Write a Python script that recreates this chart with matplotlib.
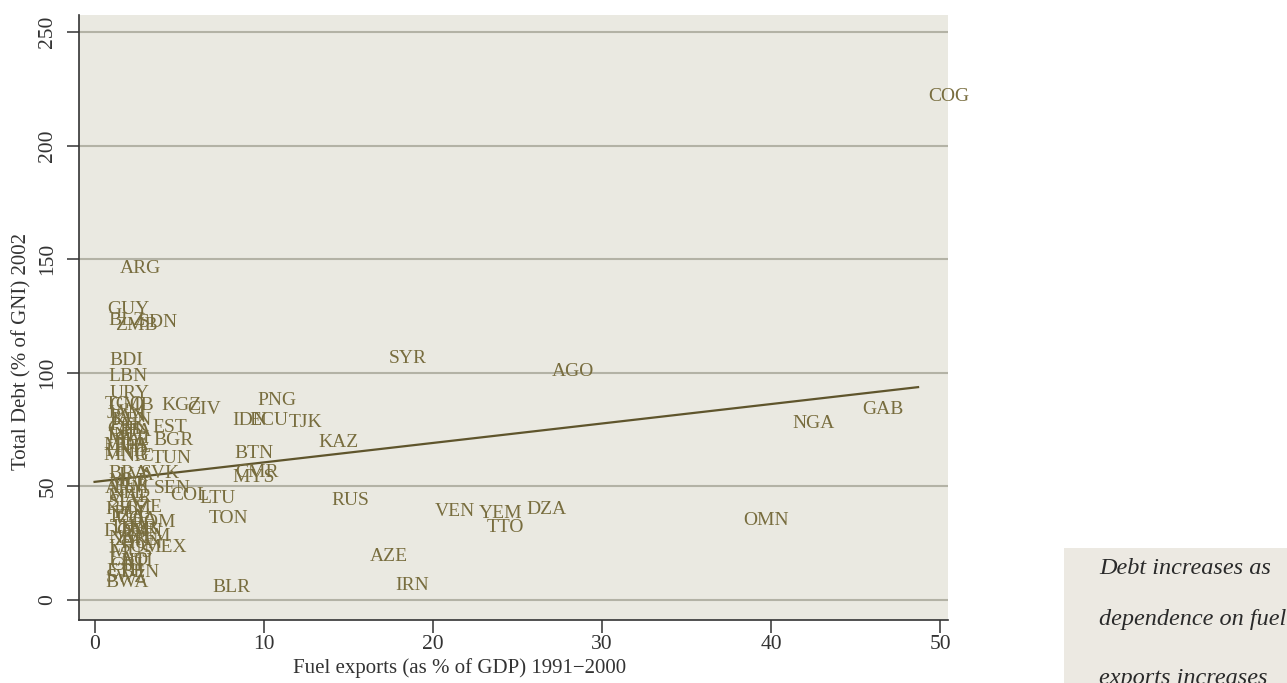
import matplotlib.pyplot as plt
from matplotlib.patches import Rectangle

# country codes, fuel exports (% GDP) 1991-2000, total debt (% GNI) 2002
countries = [
    "COG", "ARG", "GUY", "BLZ", "ZMB", "SDN", "BDI", "LBN", "URY", "TGO",
    "GMB", "KGZ", "CIV", "PNG", "IDN", "ECU", "TJK", "KAZ", "SYR", "AGO",
    "GAB", "NGA", "JAM", "PAN", "KEN", "PAK", "CHL", "GHA", "EST", "IND",
    "MWI", "BGR", "SLE", "MDA", "PHL", "HND", "TUN", "MNG", "NIC", "BTN",
    "CMR", "MYS", "BRA", "LVA", "SVK", "MLI", "PER", "ARM", "SEN", "NPL",
    "COL", "MAR", "LTU", "SLV", "RUS", "CZE", "KHM", "VEN", "DZA", "YEM",
    "POL", "TZA", "UGA", "ROM", "TON", "TTO", "THA", "TUR", "OMN", "DOM",
    "SVN", "GTM", "NER", "ZWE", "HUN", "MEX", "LSO", "MUS", "AZE", "LAO",
    "HTI", "CRI", "BEN", "ETH", "SWZ", "BWA", "BLR", "IRN",
]
fuel_exports = [
    50.5, 2.7, 2.0, 1.9, 2.5, 3.75, 1.85, 1.95, 2.1, 1.8,
    2.2, 5.15, 6.5, 10.8, 9.2, 10.3, 12.5, 14.4, 18.5, 28.3,
    46.6, 42.5, 1.9, 2.0, 2.2, 2.0, 1.9, 2.1, 4.46, 1.8,
    2.0, 4.64, 2.2, 1.9, 2.3, 1.9, 4.58, 1.9, 2.5, 9.4,
    9.6, 9.4, 2.0, 2.5, 3.9, 1.9, 2.2, 1.9, 4.6, 2.0,
    5.6, 2.1, 7.25, 1.9, 15.1, 2.9, 2.0, 21.3, 26.7, 24.0,
    2.2, 1.9, 2.5, 3.5, 7.9, 24.3, 2.1, 2.6, 39.7, 1.9,
    2.9, 3.2, 2.0, 2.4, 2.8, 4.2, 1.9, 2.2, 17.4, 2.0,
    2.5, 1.9, 2.7, 1.8, 1.9, 1.9, 8.1, 18.8,
]
total_debt = [
    221.8, 146.1, 128.0, 123.0, 121.0, 122.0, 105.6, 98.6, 91.0, 86.0,
    85.5, 85.4, 84.0, 88.0, 78.8, 79.0, 78.0, 69.5, 106.5, 100.4,
    84.0, 77.5, 82.0, 80.5, 79.0, 77.0, 75.0, 74.0, 76.1, 72.5,
    71.0, 70.0, 70.0, 68.0, 67.0, 65.5, 62.5, 63.4, 63.0, 64.7,
    56.0, 54.0, 55.5, 55.0, 55.5, 52.0, 50.5, 49.0, 49.0, 47.0,
    46.0, 45.0, 44.5, 43.0, 43.6, 40.5, 40.0, 39.0, 40.0, 37.9,
    38.0, 36.5, 35.5, 34.0, 36.0, 32.0, 32.0, 31.0, 34.8, 30.0,
    30.0, 28.0, 27.0, 26.0, 25.0, 23.3, 23.0, 21.0, 19.0, 17.5,
    17.0, 15.0, 12.3, 12.5, 10.0, 7.5, 5.7, 6.6,
]

# fitted line end points
fit_x = [0, 48.7]
fit_y = [52.0, 93.7]

y_ticks = [0, 50, 100, 150, 200, 250]
x_ticks = [0, 10, 20, 30, 40, 50]

note_lines = ["Debt increases as", "dependence on fuel", "exports increases"]

W, H = 1287, 683
serif = ["Liberation Serif", "DejaVu Serif"]
label_color = "#786D3E"
axis_color = "#333333"

fig = plt.figure(figsize=(W / 100, H / 100), dpi=100)
ax = fig.add_axes([79 / W, (H - 620) / H, (948 - 79) / W, (620 - 15) / H])
ax.set_facecolor("#EAE9E1")

ax.set_xlim(-0.92, 50.47)
ax.set_ylim(-8.8, 257.5)

for yv in y_ticks:
    ax.axhline(yv, color="#B3B2A5", lw=1.5, zorder=1)

ax.plot(fit_x, fit_y, color="#5F552C", lw=1.6, zorder=2)

for lab, xv, yv in zip(countries, fuel_exports, total_debt):
    ax.text(xv, yv, lab, ha="center", va="center", fontsize=14,
            color=label_color, family=serif, zorder=3)

for side in ("top", "right"):
    ax.spines[side].set_visible(False)
for side in ("left", "bottom"):
    ax.spines[side].set_color(axis_color)
    ax.spines[side].set_linewidth(1.2)

ax.set_xticks(x_ticks)
ax.set_yticks(y_ticks)
ax.tick_params(axis="both", direction="out", length=9, width=1.1,
               color=axis_color, labelsize=15.5, labelcolor=axis_color)
ax.tick_params(axis="x", pad=1.5)
ax.tick_params(axis="y", pad=6.5)
for t in ax.get_xticklabels():
    t.set_family(serif)
for t in ax.get_yticklabels():
    t.set_family(serif)
    t.set_rotation(90)
    t.set_va("center")

# axis titles, placed where the reference has them
fig.text(460 / W, (H - 668) / H, "Fuel exports (as % of GDP) 1991\u22122000",
         ha="center", va="center", family=serif, fontsize=15, color=axis_color)
fig.text(22 / W, (H - 351) / H, "Total Debt (% of GNI) 2002", rotation=90,
         ha="center", va="center", family=serif, fontsize=15, color=axis_color)

# side note box, cut by the figure edge
fig.patches.append(Rectangle((1064 / W, 0), (W - 1064) / W, (H - 548) / H,
                             transform=fig.transFigure, facecolor="#ECE9E2",
                             edgecolor="none", zorder=0))
for line, base in zip(note_lines, [574, 625, 684]):
    fig.text(1099 / W, (H - base) / H, line, ha="left", va="baseline",
             fontsize=17.5, style="italic", family=serif, color="#2A2A2A")

fig.savefig("out.png", dpi=100)
